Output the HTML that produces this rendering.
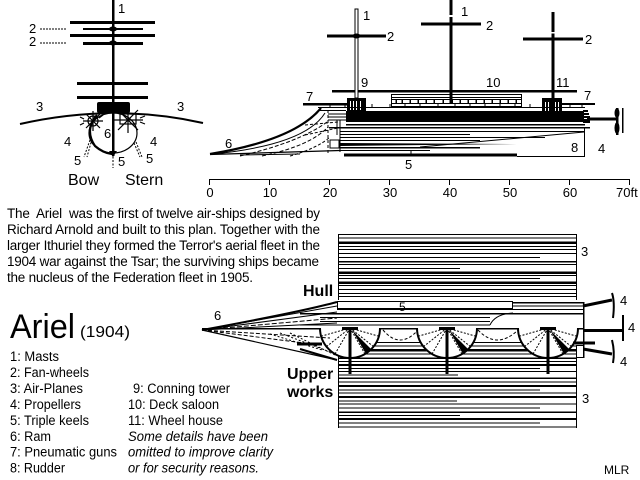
<!DOCTYPE html>
<html><head><meta charset="utf-8"><style>
html,body{margin:0;padding:0;background:#fff;}
svg{display:block;}
text{font-family:"Liberation Sans",sans-serif;fill:#000;}
</style></head><body>
<svg width="640" height="480" viewBox="0 0 640 480" xmlns="http://www.w3.org/2000/svg">
<rect width="640" height="480" fill="#fff"/>

<!-- ============ FRONT VIEW ============ -->
<g>
  <path d="M20,124 Q113,103 203,123" fill="none" stroke="#000" stroke-width="2"/>
  <ellipse cx="113" cy="133" rx="24" ry="20" fill="#fff" stroke="#000" stroke-width="1.2"/>
  <path d="M97,115 Q84,130 95,146 Q103,153 112,154" fill="none" stroke="#000" stroke-width="2.2"/>
  <g stroke="#000" stroke-width="1.2" fill="none">
    <path d="M83,121 L103,121 M93,111 L93,131 M86,114 L100,128 M100,114 L86,128 M80,117 L84,119 M80,125 L84,123 M103,115 L99,118"/>
    <circle cx="93" cy="121" r="5"/>
    <path d="M114,120 L143,120 M128,107 L128,133 M118,110 L138,130 M138,110 L118,130 M145,116 L140,118 M145,124 L140,122"/>
    <rect x="120" y="114" width="16" height="10"/>
  </g>
  <g stroke="#000" stroke-width="1" stroke-dasharray="2,1.5" fill="none">
    <path d="M90,140 L84,157 M92,139 L87,157"/>
    <path d="M136,142 L142,157 M134,143 L140,157"/>
    <path d="M113,153 L113,168"/>
  </g>
  <rect x="112" y="0" width="2.5" height="156" fill="#000"/>
  <path d="M109,151 L117,151 L113,157 Z" fill="#000"/>
  <g fill="#000" shape-rendering="crispEdges">
    <rect x="70" y="21" width="85" height="3"/>
    <rect x="83" y="28" width="60" height="2"/>
    <rect x="70" y="34" width="85" height="3"/>
    <rect x="83" y="42" width="60" height="3"/>
    <rect x="77" y="82" width="71" height="3"/>
    <rect x="77" y="96" width="71" height="3"/>
  </g>
  <ellipse cx="113" cy="29" rx="4" ry="2.5" fill="#000"/>
  <ellipse cx="113" cy="43" rx="4" ry="2.5" fill="#000"/>
  <rect x="97" y="102" width="33" height="11" rx="2" fill="#000"/>
  <g font-size="13">
    <text x="118" y="13">1</text>
    <text x="29" y="33">2</text>
    <text x="29" y="46">2</text>
    <text x="36" y="111">3</text>
    <text x="177" y="111">3</text>
    <text x="104" y="138">6</text>
    <text x="64" y="146">4</text>
    <text x="150" y="146">4</text>
    <text x="74" y="165">5</text>
    <text x="118" y="166">5</text>
    <text x="146" y="163">5</text>
  </g>
  <path d="M40,29 L67,29 M40,43 L67,43" stroke="#000" stroke-width="1" stroke-dasharray="2,1"/>
  <text x="68" y="185" font-size="16">Bow</text>
  <text x="125" y="185" font-size="16">Stern</text>
</g>

<!-- ============ SIDE VIEW ============ -->
<g>
  <g fill="#000" shape-rendering="crispEdges">
    <rect x="327" y="34.5" width="59" height="3"/>
    <rect x="421" y="22.5" width="60" height="3"/>
    <rect x="523" y="37.5" width="60" height="3"/>
    <rect x="449.5" y="0" width="3" height="102"/>
    <rect x="551.5" y="12" width="3" height="88"/>
    <rect x="332" y="90" width="245" height="2.5"/>
    <rect x="303" y="103" width="44" height="2.5"/>
    <rect x="553" y="103" width="42" height="2"/>
  </g>
  <rect x="449.5" y="15" width="3" height="2" fill="#fff"/>
  <rect x="551.5" y="32" width="3" height="1.5" fill="#fff"/>
  <rect x="355" y="9" width="3" height="89" fill="#fff" stroke="#000" stroke-width="1"/>
  <ellipse cx="356.5" cy="36" rx="4" ry="2.5" fill="#000"/>
  <g shape-rendering="crispEdges">
    <rect x="391.5" y="94.5" width="130" height="12" fill="#fff" stroke="#000" stroke-width="1"/>
    <path d="M391,97.5 L522,97.5 M391,99.5 L522,99.5 M391,103.5 L522,103.5" stroke="#000" stroke-width="1"/>
    <path d="M396,99 V104 M402,99 V104 M410,99 V104 M418,99 V104 M426,99 V104 M434,99 V104 M443,99 V104 M452,99 V104 M460,99 V104 M468,99 V104 M476,99 V104 M484,99 V104 M492,99 V104 M500,99 V104 M508,99 V104 M516,99 V104" stroke="#000" stroke-width="1.5"/>
  </g>
  <rect x="449.5" y="90" width="3" height="14" fill="#000"/>
  <rect x="347" y="98" width="19" height="14" fill="#000"/>
  <g fill="#fff"><rect x="350" y="101" width="1" height="9"/><rect x="353" y="101" width="1" height="9"/><rect x="356" y="101" width="1" height="9"/><rect x="360" y="101" width="1" height="9"/></g>
  <rect x="542" y="98" width="20" height="14" fill="#000"/>
  <g fill="#fff"><rect x="545" y="102" width="1" height="9"/><rect x="548" y="102" width="1" height="9"/><rect x="555" y="102" width="1" height="9"/><rect x="558" y="102" width="1" height="9"/></g>
  <g stroke="#000" stroke-width="1" shape-rendering="crispEdges">
    <path d="M318,107.5 L585,107.5 M318,110.5 L346,110.5 M328,114 L346,114 M328,117 L346,117 M328,120 L346,120"/>
    <path d="M330,104 V108 M345,104 V108 M372,104 V108 M390,104 V108 M405,104 V108 M420,104 V108 M438,104 V108 M455,104 V108 M470,104 V108 M485,104 V108 M500,104 V108 M515,104 V108 M530,104 V108 M570,104 V108 M582,104 V108"/>
  </g>
  <rect x="346" y="111" width="238" height="11" fill="#000"/>
  <g fill="#000" shape-rendering="crispEdges">
    <rect x="583" y="110" width="5" height="2"/>
    <rect x="583" y="113" width="6" height="2"/>
    <rect x="583" y="116" width="7" height="2"/>
    <rect x="583" y="119" width="7" height="4"/>
  </g>
  <g stroke="#000" fill="none" shape-rendering="crispEdges">
    <path d="M346,124.5 L585,124.5" stroke-width="1.5"/>
    <path d="M329,127.5 L590,127.5" stroke-width="1.5"/>
    <path d="M340,131.5 L585,131.5" stroke-width="1"/>
    <path d="M340,134.5 L470,134.5" stroke-width="1"/>
    <path d="M340,137.5 L545,137.5" stroke-width="1"/>
    <path d="M340,140.5 L480,140.5" stroke-width="1"/>
    <path d="M340,147.5 L480,147.5" stroke-width="1.5"/>
    <path d="M340,150.5 L430,150.5" stroke-width="1"/>
    <path d="M340,120 L340,152 M337,120 L337,135" stroke-width="1"/>
    <path d="M584.5,128 L584.5,157 M517,156.5 L585,156.5" stroke-width="1"/>
  </g>
  <path d="M340,143 L517,144 L340,146 Z" fill="#000"/>
  <path d="M420,147 L584,132" stroke="#000" stroke-width="1" fill="none"/>
  <path d="M328,110 L328,153" stroke="#000" stroke-width="1" stroke-dasharray="3,2"/>
  <rect x="330" y="140" width="9" height="8" fill="none" stroke="#000" stroke-width="1"/>
  <rect x="344" y="153.5" width="173" height="3" fill="#000"/>
  <path d="M411,150 L411,155" stroke="#000" stroke-width="1"/>
  <g fill="none" stroke="#000">
    <path d="M210,154 Q295,140 321,108" stroke-width="2.2"/>
    <path d="M213,154 Q305,145 325,113" stroke-width="1"/>
    <path d="M210,154.5 L340,150.5" stroke-width="1.2"/>
    <path d="M240,156 Q300,142 327,122" stroke-width="1" stroke-dasharray="4,2"/>
    <path d="M262,156 Q310,146 328,127" stroke-width="1" stroke-dasharray="4,2"/>
    <path d="M290,156 Q318,148 330,137" stroke-width="1" stroke-dasharray="3,2"/>
    <path d="M240,155 L300,154" stroke-width="1"/>
    <path d="M305,135 L338,128 M305,125 L338,122" stroke-width="1" stroke-dasharray="3,2"/>
  </g>
  <rect x="587" y="117.5" width="30" height="3" fill="#000"/>
  <rect x="616" y="108" width="2.5" height="27" fill="#000"/>
  <ellipse cx="617" cy="113" rx="2.5" ry="5" fill="#000"/>
  <ellipse cx="617" cy="128" rx="2.5" ry="6" fill="#000"/>
  <rect x="622" y="108" width="1.5" height="25" fill="#000"/>
  <g stroke="#000" stroke-width="1" shape-rendering="crispEdges">
    <path d="M209,179.5 L629,179.5"/>
    <path d="M209.5,179 V185 M269.5,179 V185 M329.5,179 V185 M389.5,179 V185 M449.5,179 V185 M509.5,179 V185 M569.5,179 V185 M629.5,179 V185"/>
  </g>
  <g font-size="13" text-anchor="middle">
    <text x="210" y="197">0</text>
    <text x="270" y="197">10</text>
    <text x="330" y="197">20</text>
    <text x="390" y="197">30</text>
    <text x="450" y="197">40</text>
    <text x="510" y="197">50</text>
    <text x="570" y="197">60</text>
  </g>
  <text x="616" y="197" font-size="13">70ft</text>
  <g font-size="13">
    <text x="363" y="20">1</text>
    <text x="387" y="41">2</text>
    <text x="461" y="16">1</text>
    <text x="486" y="30">2</text>
    <text x="585" y="44">2</text>
    <text x="361" y="87">9</text>
    <text x="486" y="87">10</text>
    <text x="556" y="87">11</text>
    <text x="306" y="101">7</text>
    <text x="584" y="100">7</text>
    <text x="225" y="148">6</text>
    <text x="405" y="169">5</text>
    <text x="571" y="152">8</text>
    <text x="598" y="153">4</text>
  </g>
</g>

<!-- ============ PARAGRAPH ============ -->
<g font-size="13.5">
  <text x="7" y="218" textLength="313" lengthAdjust="spacing">The&#160; Ariel&#160; was the first of twelve air-ships designed by</text>
  <text x="7" y="234" textLength="313" lengthAdjust="spacing">Richard Arnold and built to this plan. Together with the</text>
  <text x="7" y="250" textLength="313" lengthAdjust="spacing">larger Ithuriel they formed the Terror's aerial fleet in the</text>
  <text x="7" y="266" textLength="312" lengthAdjust="spacing">1904 war against the Tsar; the surviving ships became</text>
  <text x="7" y="282" textLength="246" lengthAdjust="spacing">the nucleus of the Federation fleet in 1905.</text>
</g>

<!-- ============ PLAN VIEW ============ -->
<g>
  <g stroke="#000" fill="none" shape-rendering="crispEdges">
    <path d="M338.5,234 L338.5,302 M576.5,234 L576.5,302" stroke-width="1"/>
    <path d="M338,234.5 L577,234.5" stroke-width="1"/>
    <path d="M338,238 L576,238" stroke-width="1"/>
    <path d="M338,242.5 L576,242.5" stroke-width="2.5"/>
    <path d="M338,246.5 L576,246.5" stroke-width="1"/>
    <path d="M338,249.5 L576,249.5" stroke-width="1"/>
    <path d="M338,253.5 L576,253.5" stroke-width="1"/>
    <path d="M338,257.5 L540,257.5" stroke-width="1"/>
    <path d="M338,261.5 L576,261.5" stroke-width="1.5"/>
    <path d="M338,264.5 L576,264.5" stroke-width="1"/>
    <path d="M338,268.5 L460,268.5" stroke-width="1"/>
    <path d="M338,272.5 L576,272.5" stroke-width="2.5"/>
    <path d="M338,275.5 L576,275.5" stroke-width="1"/>
    <path d="M338,278.5 L540,278.5" stroke-width="1"/>
    <path d="M338,282.5 L576,282.5" stroke-width="2.5"/>
    <path d="M338,285.5 L576,285.5" stroke-width="1"/>
    <path d="M338,289.5 L576,289.5" stroke-width="1"/>
    <path d="M338,293.5 L576,293.5" stroke-width="1"/>
    <path d="M338,296.5 L576,296.5" stroke-width="1"/>
  </g>
  <rect x="337" y="300" width="246" height="58" fill="#fff"/>
  <g stroke="#000" fill="none" shape-rendering="crispEdges">
    <path d="M337,302.5 L583,302.5" stroke-width="1.5"/>
    <path d="M337,306 L583,306" stroke-width="1"/>
    <path d="M337,309.5 L583,309.5" stroke-width="1"/>
    <path d="M300,313.5 L583,313.5" stroke-width="1.5"/>
    <path d="M320,317.5 L490,317.5" stroke-width="1"/>
    <path d="M320,321.5 L490,321.5" stroke-width="1"/>
    <path d="M300,325 L490,325" stroke-width="1"/>
    <path d="M202,328.5 L583,328.5" stroke-width="1.5"/>
    <path d="M583.5,302 L583.5,358" stroke-width="1.5"/>
    <path d="M338,342.5 L583,342.5" stroke-width="1"/>
    <path d="M338,346 L583,346" stroke-width="1"/>
    <path d="M338,350 L577,350" stroke-width="2.5"/>
    <path d="M338,354 L577,354" stroke-width="1"/>
    <path d="M338.5,328 L338.5,428 M576.5,353 L576.5,428" stroke-width="1"/>
  </g>
  <rect x="337.5" y="301.5" width="175" height="7" fill="#fff" stroke="#000" stroke-width="1"/>
  <path d="M490,325 Q495,314 513,313" fill="none" stroke="#000" stroke-width="1"/>
  <g stroke="#000" fill="none" shape-rendering="crispEdges">
    <path d="M338,358 L576,358" stroke-width="1.5"/>
    <path d="M338,361.5 L576,361.5" stroke-width="1"/>
    <path d="M338,365 L576,365" stroke-width="2"/>
    <path d="M338,368.5 L540,368.5" stroke-width="1"/>
    <path d="M338,371.5 L576,371.5" stroke-width="1"/>
    <path d="M338,375 L458,375" stroke-width="1"/>
    <path d="M338,378 L576,378" stroke-width="1.5"/>
    <path d="M338,382 L576,382" stroke-width="1"/>
    <path d="M338,386 L576,386" stroke-width="2"/>
    <path d="M338,390 L540,390" stroke-width="1"/>
    <path d="M338,393 L576,393" stroke-width="1"/>
    <path d="M338,397 L576,397" stroke-width="2"/>
    <path d="M338,401 L457,401" stroke-width="1"/>
    <path d="M338,404 L576,404" stroke-width="1"/>
    <path d="M338,408 L540,408" stroke-width="1"/>
    <path d="M338,412 L576,412" stroke-width="1.5"/>
    <path d="M338,415.5 L460,415.5" stroke-width="1"/>
    <path d="M338,419 L576,419" stroke-width="2"/>
    <path d="M338,423 L540,423" stroke-width="1"/>
    <path d="M338,427 L577,427" stroke-width="1"/>
  </g>
  <path d="M383,330 Q400,350 418,330 M478,330 Q497,350 518,330" fill="none" stroke="#000" stroke-width="1" stroke-dasharray="3,2"/>
  <g stroke="#000">
    <path d="M320,328 A30,30 0 0 0 380,328" fill="#fff" stroke-width="2"/>
    <path d="M417,328 A30,30 0 0 0 477,328" fill="#fff" stroke-width="2"/>
    <path d="M518,328 A30,30 0 0 0 578,328" fill="#fff" stroke-width="2"/>
  </g>
  <g stroke="#000" stroke-width="1" stroke-dasharray="2,1.5" fill="none">
    <path d="M350,328 L322,336 M350,328 L326,347 M350,328 L335,354 M350,328 L378,336 M350,328 L374,347 M350,328 L365,354"/>
    <path d="M447,328 L419,336 M447,328 L423,347 M447,328 L432,354 M447,328 L475,336 M447,328 L471,347 M447,328 L462,354"/>
    <path d="M548,328 L520,336 M548,328 L524,347 M548,328 L533,354 M548,328 L576,336 M548,328 L572,347 M548,328 L563,354"/>
  </g>
  <g fill="#000">
    <path d="M352,330 L372,350 L366,354 Z"/>
    <path d="M449,330 L469,350 L463,354 Z"/>
    <path d="M550,330 L570,350 L564,354 Z"/>
    <rect x="342" y="327" width="16" height="3"/>
    <rect x="439" y="327" width="16" height="3"/>
    <rect x="540" y="327" width="16" height="3"/>
    <rect x="348.5" y="327" width="3" height="47"/>
    <rect x="445.5" y="327" width="3" height="47"/>
    <rect x="546.5" y="327" width="3" height="47"/>
  </g>
  <g fill="none" stroke="#000">
    <path d="M202,330 Q300,312 337,302" stroke-width="2"/>
    <path d="M202,330 L337,306" stroke-width="1"/>
    <path d="M202,330 L337,312" stroke-width="1"/>
    <path d="M202,330 L337,318" stroke-width="1" stroke-dasharray="5,2"/>
    <path d="M202,330 L337,323" stroke-width="1"/>
    <path d="M202,330 L330,338" stroke-width="1" stroke-dasharray="4,2"/>
    <path d="M202,330 L320,345" stroke-width="1" stroke-dasharray="4,2"/>
    <path d="M202,330 L337,360" stroke-width="1.2"/>
    <path d="M300,349 L337,360" stroke-width="2"/>
    <path d="M270,334 L322,350 M280,333 L330,352 M290,333 L335,355" stroke-width="1" stroke-dasharray="2,2"/>
  </g>
  <rect x="297" y="342.5" width="25" height="3" fill="#000"/>
  <g fill="none" stroke="#000">
    <path d="M583,306 L612,300" stroke-width="3"/>
    <path d="M612,293 Q615,302 613,318" stroke-width="2"/>
    <path d="M583,330.5 L623,330.5" stroke-width="3"/>
    <path d="M623,315 L623,341" stroke-width="2"/>
    <path d="M583,349 L612,354" stroke-width="3"/>
    <path d="M612,340 Q615,352 613,363" stroke-width="2"/>
  </g>
  <rect x="573" y="341.5" width="22" height="3" fill="#000"/>
  <rect x="576.5" y="345.5" width="7" height="12" fill="#fff" stroke="#000" stroke-width="1"/>
  <g font-size="13">
    <text x="214" y="320">6</text>
    <text x="399" y="311" font-size="12">5</text>
    <text x="581" y="256">3</text>
    <text x="582" y="403">3</text>
    <text x="620" y="305">4</text>
    <text x="628" y="332">4</text>
    <text x="620" y="366">4</text>
  </g>
  <g font-size="16" font-weight="bold">
    <text x="303" y="296">Hull</text>
    <text x="287" y="379">Upper</text>
    <text x="287" y="397">works</text>
  </g>
</g>

<!-- ============ TITLE & LEGEND ============ -->
<text x="10" y="338" font-size="34" textLength="65" lengthAdjust="spacingAndGlyphs">Ariel</text>
<text x="80" y="337" font-size="16" textLength="50" lengthAdjust="spacingAndGlyphs">(1904)</text>
<g font-size="13.5">
  <text x="10" y="361" textLength="49" lengthAdjust="spacingAndGlyphs">1: Masts</text>
  <text x="10" y="377" textLength="79" lengthAdjust="spacingAndGlyphs">2: Fan-wheels</text>
  <text x="10" y="393" textLength="73" lengthAdjust="spacingAndGlyphs">3: Air-Planes</text>
  <text x="10" y="409" textLength="71" lengthAdjust="spacingAndGlyphs">4: Propellers</text>
  <text x="10" y="425" textLength="79" lengthAdjust="spacingAndGlyphs">5: Triple keels</text>
  <text x="10" y="441" textLength="41" lengthAdjust="spacingAndGlyphs">6: Ram</text>
  <text x="10" y="456.5" textLength="107" lengthAdjust="spacingAndGlyphs">7: Pneumatic guns</text>
  <text x="10" y="472.5" textLength="55" lengthAdjust="spacingAndGlyphs">8: Rudder</text>
  <text x="133" y="393" textLength="97" lengthAdjust="spacingAndGlyphs">9: Conning tower</text>
  <text x="128" y="409" textLength="91" lengthAdjust="spacingAndGlyphs">10: Deck saloon</text>
  <text x="128" y="425" textLength="95" lengthAdjust="spacingAndGlyphs">11: Wheel house</text>
  <text x="128" y="441" font-style="italic" textLength="140" lengthAdjust="spacingAndGlyphs">Some details have been</text>
  <text x="128" y="456.5" font-style="italic" textLength="145" lengthAdjust="spacingAndGlyphs">omitted to improve clarity</text>
  <text x="128" y="472.5" font-style="italic" textLength="131" lengthAdjust="spacingAndGlyphs">or for security reasons.</text>
</g>
<text x="604" y="474" font-size="12">MLR</text>
</svg>
</body></html>
